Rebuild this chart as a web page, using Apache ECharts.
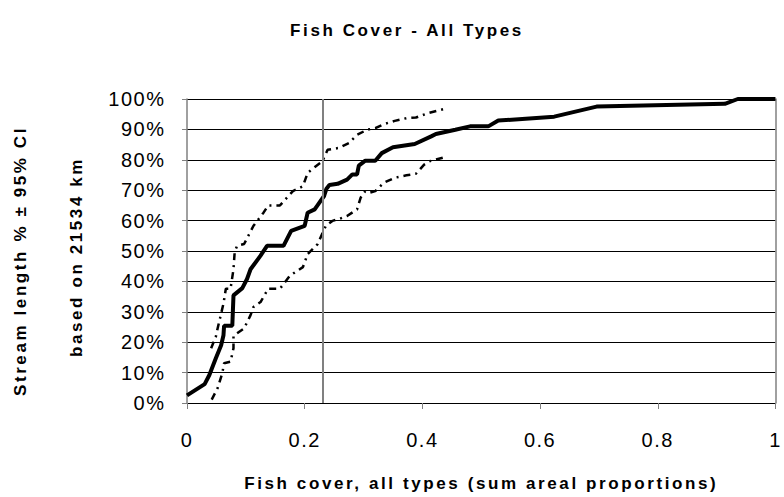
<!DOCTYPE html>
<html>
<head>
<meta charset="utf-8">
<script src="https://cdn.jsdelivr.net/npm/echarts@6/dist/echarts.min.js"></script>
<style>
  html, body { margin: 0; padding: 0; background: #fff; }
  #chart { width: 784px; height: 497px; }
  /* slightly open letter spacing for all chart text, wider for bold titles */
  #chart svg text { letter-spacing: 1.5px; }
  #chart svg text[style*="bold"] { letter-spacing: 2.6px; }
</style>
</head>
<body>
<div id="chart"></div>
<script>
// Cumulative distribution of fish cover (sum of areal proportions), % of stream length
const medianX = [0, 0.03, 0.038, 0.049, 0.058, 0.062, 0.063, 0.077, 0.079, 0.094, 0.102, 0.108, 0.125, 0.136, 0.164, 0.177, 0.2, 0.205, 0.217, 0.225, 0.233, 0.237, 0.242, 0.256, 0.272, 0.281, 0.289, 0.292, 0.303, 0.320, 0.331, 0.350, 0.387, 0.415, 0.423, 0.456, 0.481, 0.512, 0.529, 0.624, 0.696, 0.914, 0.936, 1.0];
const medianY = [2.5, 6.2, 9.2, 14.7, 19, 22.3, 25.4, 25.4, 35.4, 37.8, 40.8, 44, 48.5, 51.7, 51.7, 56.6, 58.3, 62.6, 63.7, 65.9, 68.1, 70.5, 71.7, 72.1, 73.5, 75.2, 75.2, 78.1, 79.7, 79.7, 82.2, 84.1, 85.2, 87.7, 88.5, 89.9, 91, 91, 92.9, 94.2, 97.5, 98.4, 100, 100];

// Upper 95% confidence bound
const upperX = [0.041, 0.049, 0.052, 0.056, 0.062, 0.066, 0.074, 0.079, 0.081, 0.085, 0.097, 0.113, 0.130, 0.138, 0.158, 0.180, 0.197, 0.205, 0.219, 0.230, 0.239, 0.258, 0.275, 0.289, 0.306, 0.320, 0.334, 0.353, 0.373, 0.389, 0.409, 0.437];
const upperY = [18, 21.8, 24.5, 27.8, 32.7, 37.6, 37.6, 44, 49.6, 51.7, 52.3, 58.3, 62.6, 65, 65, 69.7, 71.3, 75.7, 77.9, 79.5, 83.3, 83.9, 85.5, 88.2, 89.9, 90.4, 91.7, 92.8, 93.7, 93.9, 95.3, 96.7];

// Lower 95% confidence bound
const lowerX = [0.042, 0.052, 0.060, 0.063, 0.074, 0.079, 0.079, 0.097, 0.108, 0.113, 0.125, 0.138, 0.158, 0.175, 0.197, 0.205, 0.222, 0.236, 0.247, 0.258, 0.272, 0.289, 0.295, 0.303, 0.311, 0.320, 0.334, 0.353, 0.373, 0.389, 0.403, 0.412, 0.437];
const lowerY = [1.1, 4.9, 9.8, 13.1, 13.6, 18, 22.1, 24.5, 28.9, 31.6, 33.2, 37.6, 37.6, 41.9, 44.7, 49, 52.3, 58.3, 59.9, 60.5, 61.5, 63.7, 67.5, 69.7, 69.2, 69.7, 72.4, 74.1, 74.9, 75.4, 78.4, 79.5, 80.8];

// Reference value marked with a vertical line
const referenceX = 0.229;

const titleText = 'Fish Cover - All Types';
const xName = 'Fish cover, all types (sum areal proportions)';
const yName1 = 'Stream length % \u00b1 95% CI';
const yName2 = 'based on 21534 km';

const pairs = (xs, ys) => xs.map((x, i) => [x, ys[i]]);
const font = '"Liberation Sans", Arial, sans-serif';

const chart = echarts.init(document.getElementById('chart'), null, { renderer: 'svg' });
chart.setOption({
  animation: false,
  backgroundColor: '#fff',
  title: {
    text: titleText,
    left: 402, top: 17,
    textAlign: 'center',
    textStyle: { fontFamily: font, fontWeight: 'bold', fontSize: 17, color: '#000' }
  },
  graphic: [
    {
      type: 'text', x: 20, y: 261, rotation: Math.PI / 2,
      style: { text: yName1, font: 'bold 17px ' + font, fill: '#000', align: 'center', verticalAlign: 'middle' }
    },
    {
      type: 'text', x: 76, y: 257, rotation: Math.PI / 2,
      style: { text: yName2, font: 'bold 17px ' + font, fill: '#000', align: 'center', verticalAlign: 'middle' }
    }
  ],
  grid: { left: 187, right: 1, top: 99, bottom: 92, containLabel: false },
  xAxis: {
    type: 'value', min: 0, max: 1, interval: 0.2,
    name: xName, nameLocation: 'middle', nameGap: 72,
    nameTextStyle: { fontFamily: font, fontWeight: 'bold', fontSize: 17, color: '#000', verticalAlign: 'top' },
    axisLine: { show: true, onZero: false, lineStyle: { color: '#000', width: 1 } },
    axisTick: { show: true, inside: false, length: 6, lineStyle: { color: '#808080' } },
    axisLabel: { margin: 27, fontFamily: font, fontSize: 20, color: '#000' },
    splitLine: { show: false }
  },
  yAxis: [
    {
      type: 'value', min: 0, max: 100, interval: 10,
      axisLine: { show: true, lineStyle: { color: '#808080', width: 1.5 } },
      axisTick: { show: true, inside: false, length: 5, lineStyle: { color: '#808080' } },
      axisLabel: { margin: 21.5, fontFamily: font, fontSize: 20, color: '#000', formatter: '{value}%' },
      splitLine: { show: true, lineStyle: { color: '#000', width: 1 } }
    },
    {
      type: 'value', min: 0, max: 100, position: 'right',
      axisLine: { show: true, lineStyle: { color: '#808080', width: 1.5 } },
      axisTick: { show: false }, axisLabel: { show: false }, splitLine: { show: false }
    }
  ],
  series: [
    {
      name: 'Upper 95% CI', type: 'line', data: pairs(upperX, upperY),
      showSymbol: false, symbol: 'none', clip: false,
      lineStyle: { color: '#000', width: 2.5, type: [7, 5, 2, 5] }
    },
    {
      name: 'Lower 95% CI', type: 'line', data: pairs(lowerX, lowerY),
      showSymbol: false, symbol: 'none', clip: false,
      lineStyle: { color: '#000', width: 2.5, type: [7, 5, 2, 5] }
    },
    {
      name: 'Estimate', type: 'line', data: pairs(medianX, medianY),
      showSymbol: false, symbol: 'none', clip: false,
      lineStyle: { color: '#000', width: 4 },
      markLine: {
        silent: true, symbol: 'none', label: { show: false },
        lineStyle: { color: '#808080', width: 2, type: 'solid' },
        data: [{ xAxis: referenceX }]
      }
    }
  ]
});
</script>
</body>
</html>
